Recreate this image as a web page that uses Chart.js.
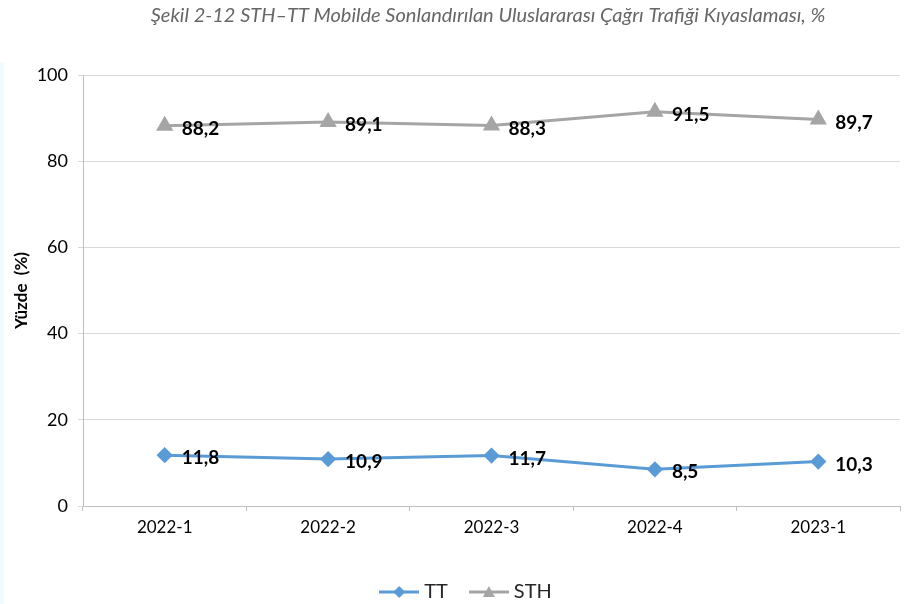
<!DOCTYPE html>
<html>
<head>
<meta charset="utf-8">
<script src="https://cdn.jsdelivr.net/npm/chart.js@4"></script>
<style>
  body { margin: 0; background: #fff; }
  #wrap { position: relative; width: 912px; height: 604px; }
  #strip { position: absolute; left: 0; top: 62px; width: 4px; height: 542px; background: #effbff; }
</style>
</head>
<body>
<div id="wrap">
  <div id="strip"></div>
  <canvas id="myChart" width="912" height="604"></canvas>
</div>
<script>
const categories = ['2022-1', '2022-2', '2022-3', '2022-4', '2023-1'];
const ttValues = [11.8, 10.9, 11.7, 8.5, 10.3];
const sthValues = [88.2, 89.1, 88.3, 91.5, 89.7];
const yTicks = [0, 20, 40, 60, 80, 100];

const chartTitle = 'Şekil 2-12 STH–TT Mobilde Sonlandırılan Uluslararası Çağrı Trafiği Kıyaslaması, %';
const blue = '#5b9bd5';
const gray = '#a5a5a5';

// legend icons: line with the marker in the middle
function legendIcon(color, shape) {
  let c = document.createElement('canvas');
  c.width = 40; c.height = 16;
  let ctx = c.getContext('2d');
  ctx.strokeStyle = color;
  ctx.lineWidth = 3;
  ctx.beginPath(); ctx.moveTo(0, 8); ctx.lineTo(40, 8); ctx.stroke();
  ctx.fillStyle = color;
  ctx.beginPath();
  if (shape === 'diamond') {
    ctx.moveTo(20, 2); ctx.lineTo(26, 8); ctx.lineTo(20, 14); ctx.lineTo(14, 8);
  } else {
    ctx.moveTo(20, 2); ctx.lineTo(26, 13); ctx.lineTo(14, 13);
  }
  ctx.closePath(); ctx.fill();
  return c;
}

const valueLabels = {
  id: 'valueLabels',
  afterDatasetsDraw(chart) {
    let ctx = chart.ctx;
    ctx.save();
    ctx.font = 'bold 19px Lato';
    ctx.fillStyle = '#000';
    ctx.textAlign = 'left';
    ctx.textBaseline = 'middle';
    chart.data.datasets.forEach((ds, i) => {
      chart.getDatasetMeta(i).data.forEach((pt, j) => {
        let txt = ds.data[j].toFixed(1).replace('.', ',');
        ctx.fillText(txt, pt.x + 17, pt.y + 3);
      });
    });
    ctx.restore();
  }
};

const topTitle = {
  id: 'topTitle',
  afterDraw(chart) {
    let ctx = chart.ctx;
    ctx.save();
    ctx.font = 'italic 20px Lato';
    ctx.fillStyle = '#666';
    ctx.textAlign = 'center';
    ctx.textBaseline = 'middle';
    ctx.fillText(chartTitle, 488, 16);
    ctx.restore();
  }
};

// legend sits a bit right of centre in the original
const legendShift = {
  id: 'legendShift',
  afterLayout(chart) {
    chart.legend.left += 18;
    chart.legend.right += 18;
  }
};

new Chart('myChart', {
  type: 'line',
  data: {
    labels: categories,
    datasets: [{
      label: 'TT',
      data: ttValues,
      borderColor: blue,
      backgroundColor: blue,
      borderWidth: 3,
      pointStyle: 'rectRot',
      pointRadius: 6,
      pointHoverRadius: 6,
      tension: 0
    }, {
      label: 'STH',
      data: sthValues,
      borderColor: gray,
      backgroundColor: gray,
      borderWidth: 3,
      pointStyle: 'triangle',
      pointRadius: 7,
      pointHoverRadius: 7,
      tension: 0
    }]
  },
  options: {
    responsive: false,
    animation: false,
    layout: { padding: { top: 75, right: 12, left: 0, bottom: -8 } },
    plugins: {
      title: { display: false },
      tooltip: { enabled: false },
      legend: {
        position: 'bottom',
        labels: {
          color: '#262626',
          font: { family: 'Lato', size: 20 },
          padding: 26,
          usePointStyle: true,
          pointStyleWidth: 30,
          generateLabels(chart) {
            return chart.data.datasets.map((ds, i) => ({
              text: ds.label,
              pointStyle: legendIcon(ds.borderColor, i === 0 ? 'diamond' : 'triangle'),
              fontColor: '#262626',
              datasetIndex: i,
              lineWidth: 0
            }));
          }
        }
      }
    },
    scales: {
      x: {
        offset: true,
        grid: { drawOnChartArea: false, offset: true, tickLength: 5, color: '#bfbfbf' },
        border: { color: '#bfbfbf' },
        ticks: { color: '#000', font: { family: 'Lato', size: 17 }, padding: 6 },
        afterFit(scale) { scale.height = 50; }
      },
      y: {
        min: 0,
        max: 100,
        afterBuildTicks(scale) { scale.ticks = yTicks.map(v => ({ value: v })); },
        grid: { color: '#d9d9d9', tickLength: 5 },
        border: { color: '#bfbfbf' },
        ticks: { color: '#000', font: { family: 'Lato', size: 18 }, padding: 10 },
        title: {
          display: true,
          text: 'Yüzde  (%)',
          color: '#000',
          font: { family: 'Lato', size: 17, weight: 'bold' },
          padding: { top: 11, bottom: 0 }
        },
        afterFit(scale) { scale.width = 83; }
      }
    }
  },
  plugins: [valueLabels, topTitle, legendShift]
});
</script>
</body>
</html>
